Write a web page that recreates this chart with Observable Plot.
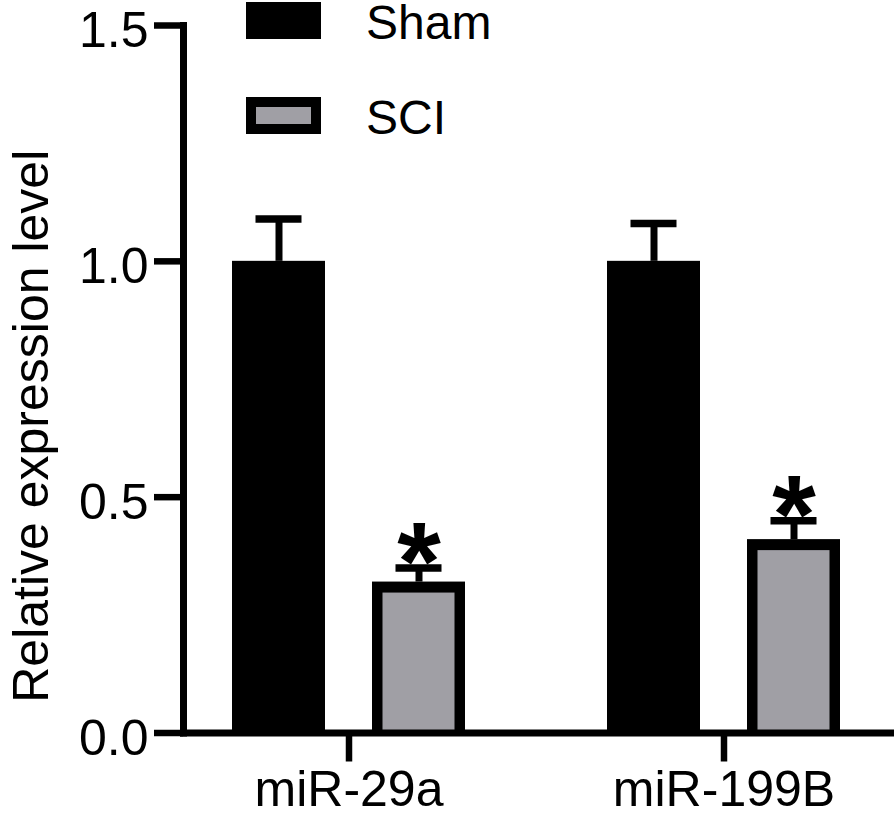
<!DOCTYPE html>
<html>
<head>
<meta charset="utf-8">
<script src="https://cdn.jsdelivr.net/npm/d3@7"></script>
<script src="https://cdn.jsdelivr.net/npm/@observablehq/plot@0.6"></script>
<style>
  body { margin: 0; background: #fff; }
  #wrap { position: relative; width: 894px; height: 822px; font-family: "Liberation Sans", Arial, sans-serif; }
  .sw { position: absolute; box-sizing: border-box; background: #000; }
  .lt { position: absolute; font-size: 48px; line-height: 40px; color: #000; white-space: nowrap; }
</style>
</head>
<body>
<div id="wrap"></div>
<script>
// ---- data ----
const genes = ["miR-29a", "miR-199B"];
const groups = ["Sham", "SCI"];
const shamMean = [1.0, 1.0];
const shamUpper = [1.09, 1.08];
const sciMean = [0.32, 0.41];
const sciUpper = [0.35, 0.45];
const sciSignif = ["*", "*"];
const yTicks = [0, 0.5, 1.0, 1.5];
const yLabel = "Relative expression level";
const colors = { Sham: "#000000", SCI: "#a09fa5" };

const rows = [];
genes.forEach((g, i) => {
  rows.push({ gene: g, group: "Sham", mean: shamMean[i], upper: shamUpper[i], sig: "" });
  rows.push({ gene: g, group: "SCI", mean: sciMean[i], upper: sciUpper[i], sig: sciSignif[i] });
});
const sciRows = rows.filter(d => d.group === "SCI");

const chart = Plot.plot({
  width: 894,
  height: 822,
  marginLeft: 182,
  marginRight: 4,
  marginTop: 25,
  marginBottom: 89.5,
  style: { fontFamily: "'Liberation Sans', Arial, sans-serif", color: "#000", background: "#fff" },
  fx: { domain: genes, paddingInner: 0.1166, paddingOuter: 0, label: null },
  x: { domain: groups, paddingInner: 0.338, paddingOuter: 0.343, axis: null, label: null },
  y: { domain: [0, 1.5], label: null },
  marks: [
    Plot.barY(rows, { fx: "gene", x: "group", y: "mean", fill: "#000" }),
    Plot.barY(sciRows, { fx: "gene", x: "group", y: "mean", fill: colors.SCI, insetLeft: 10.5, insetRight: 10.5, insetTop: 11 }),
    Plot.ruleX(rows, { fx: "gene", x: "group", y1: "mean", y2: "upper", stroke: "#000", strokeWidth: 7 }),
    Plot.tickY(rows, { fx: "gene", x: "group", y: "upper", stroke: "#000", strokeWidth: 7.5, insetLeft: 23.5, insetRight: 23.5 }),
    Plot.text(sciRows, { fx: "gene", x: "group", y: "upper", text: "sig", fontSize: 112, fontWeight: "bold", lineAnchor: "bottom", dy: 32, fill: "#000" }),
    Plot.frame({ anchor: "bottom", stroke: "#000", strokeWidth: 7, insetRight: -2, facet: "super" }),
    Plot.frame({ anchor: "left", stroke: "#000", strokeWidth: 7, strokeLinecap: "square", facetAnchor: "left" }),
    Plot.axisY({ ticks: yTicks, tickSize: 29, strokeWidth: 6.5, fill: "none", label: null }),
    Plot.text(yTicks, { y: d => d, text: d3.format(".1f"), frameAnchor: "left", textAnchor: "end", dx: -35, dy: 5.5, fontSize: 50, fill: "#000", facetAnchor: "left" }),
    Plot.axisFx({ anchor: "bottom", tickSize: 29, tickPadding: 8, fontSize: 50, strokeWidth: 6.5, label: null }),
    Plot.text([yLabel], { frameAnchor: "left", rotate: -90, lineAnchor: "bottom", textAnchor: "middle", dx: -136, dy: 47, fontSize: 50, fill: "#000", facetAnchor: "left" })
  ]
});

const wrap = document.getElementById("wrap");
wrap.appendChild(chart);

// legend (overlaid in the upper part of the plot area)
const legendItems = [
  { key: "Sham", top: 2, textTop: 3 },
  { key: "SCI", top: 97, textTop: 98 }
];
legendItems.forEach(it => {
  const sw = document.createElement("div");
  sw.className = "sw";
  Object.assign(sw.style, { left: "246px", top: it.top + "px", width: "75px", height: "37px" });
  if (it.key === "SCI") { sw.style.border = "10.5px solid #000"; sw.style.background = colors.SCI; }
  wrap.appendChild(sw);
  const t = document.createElement("div");
  t.className = "lt";
  t.textContent = it.key;
  Object.assign(t.style, { left: "366px", top: it.textTop + "px" });
  wrap.appendChild(t);
});
</script>
</body>
</html>
